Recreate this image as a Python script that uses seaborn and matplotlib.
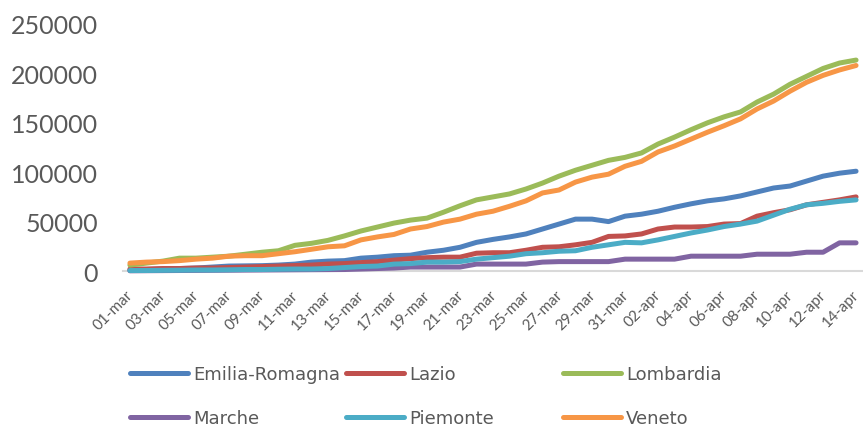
import matplotlib
matplotlib.use("Agg")
import matplotlib.pyplot as plt
import matplotlib.transforms as mtransforms
import seaborn as sns
import pandas as pd
from matplotlib.lines import Line2D

# tamponi cumulativi per regione, 01-mar .. 14-apr
giorni = [f"{d:02d}-mar" for d in range(1, 32)] + [f"{d:02d}-apr" for d in range(1, 15)]

emilia_romagna = [1000, 1500, 2000, 2500, 3000, 4000, 5000, 5200, 5400, 6000,
                  7000, 9000, 10000, 10500, 13000, 14000, 15500, 16000, 19000, 21000,
                  24000, 29000, 32000, 34500, 37500, 42500, 47500, 52500, 52500, 50000,
                  55500, 57500, 60500, 64500, 68000, 71000, 73000, 76000, 80000, 84000,
                  86000, 91000, 96000, 99000, 101000]
lazio = [2000, 2000, 2500, 2500, 3000, 3000, 3500, 4000, 4500, 5000,
         5500, 6000, 7000, 7500, 8500, 9500, 11000, 12500, 13500, 14000,
         14000, 18000, 18500, 18500, 21000, 24000, 24500, 26500, 29000, 35000,
         35500, 37500, 42500, 44500, 44500, 45000, 47500, 48000, 55500, 59000,
         62000, 67000, 69500, 72000, 75000]
lombardia = [6000, 8000, 10000, 13000, 13000, 14000, 15000, 17000, 19000, 20500,
             26000, 28000, 31000, 35500, 40500, 44500, 48500, 51500, 53500, 59500,
             66000, 72000, 75000, 78000, 83000, 89000, 96000, 102000, 107000, 112000,
             115000, 119500, 128500, 135500, 143000, 150000, 156000, 161000, 171000, 179000,
             189000, 197000, 205000, 210500, 213500]
marche = [200, 300, 400, 500, 600, 700, 800, 900, 1000, 1100,
          1200, 1300, 1400, 1500, 2000, 2500, 3000, 4000, 4000, 4000,
          4000, 7000, 7000, 7000, 7000, 9000, 9500, 9500, 9500, 9500,
          12000, 12000, 12000, 12000, 15000, 15000, 15000, 15000, 17000, 17000,
          17000, 19000, 19000, 28500, 28500]
piemonte = [500, 500, 700, 800, 1000, 1000, 1200, 1500, 1500, 1800,
            2000, 2000, 2500, 3500, 4500, 5000, 7000, 7500, 9000, 9000,
            9500, 12000, 13500, 15000, 17500, 18500, 20000, 20500, 24000, 26500,
            29000, 28500, 31500, 35000, 38500, 41500, 45000, 47500, 50500, 56500,
            62500, 67000, 68500, 70500, 72000]
veneto = [8000, 9000, 9500, 10500, 12000, 13000, 15000, 15500, 15500, 17500,
          19500, 22000, 24500, 25500, 31500, 34500, 37000, 42500, 45000, 49500,
          52500, 57500, 60500, 65500, 71000, 79000, 82000, 90000, 95000, 98000,
          106000, 111000, 120500, 126500, 133500, 140500, 147000, 154000, 164000, 172000,
          182000, 191000, 198000, 203500, 208000]

regioni = ["Emilia-Romagna", "Lazio", "Lombardia", "Marche", "Piemonte", "Veneto"]
serie = [emilia_romagna, lazio, lombardia, marche, piemonte, veneto]
colori = ["#4F81BD", "#C0504D", "#9BBB59", "#8064A2", "#4BACC6", "#F79646"]

df = pd.DataFrame({
    "giorno": list(range(len(giorni))) * len(regioni),
    "tamponi": [v for s in serie for v in s],
    "regione": [r for r in regioni for _ in giorni],
})

sns.set_style("white")
plt.rcParams["font.family"] = ["Lato", "DejaVu Sans"]
grigio = "#595959"

fig = plt.figure(figsize=(8.63, 4.27), dpi=100)
ax = fig.add_axes([123 / 863, 1 - 272 / 427, 739 / 863, 247 / 427])

sns.lineplot(data=df, x="giorno", y="tamponi", hue="regione", hue_order=regioni,
             palette=colori, linewidth=3.6, legend=False, ax=ax,
             solid_capstyle="round", solid_joinstyle="round")
for ln in ax.lines:
    ln.set_clip_on(False)

ax.set_xlim(-0.42, 44.36)
ax.set_ylim(0, 250000)
ax.set_yticks(range(0, 250001, 50000))
ax.set_xticks(range(0, len(giorni), 2))
ax.set_xticklabels(giorni[::2], rotation=45, ha="right", va="center",
                   rotation_mode="anchor", fontsize=11, color=grigio)
ax.tick_params(axis="x", length=0, pad=15)
ax.tick_params(axis="y", length=0, pad=18, labelsize=18, labelcolor=grigio)
spost = mtransforms.ScaledTranslation(0.01, 0, fig.dpi_scale_trans)
for lab in ax.get_xticklabels():
    lab.set_transform(lab.get_transform() + spost)
ax.set_xlabel("")
ax.set_ylabel("")
for side in ["top", "right", "left"]:
    ax.spines[side].set_visible(False)
ax.spines["bottom"].set_color("#D9D9D9")
ax.spines["bottom"].set_linewidth(1.5)
ax.spines["bottom"].set_zorder(0)

# legenda: tre colonne di larghezza uguale, come in Excel
colonne_x = [130, 346, 563]
for c in range(3):
    idx = [c, c + 3]
    handles = [Line2D([], [], color=colori[i], linewidth=3.6, solid_capstyle="round") for i in idx]
    leg = fig.legend(handles, [regioni[i] for i in idx], loc="center left",
                     bbox_to_anchor=(colonne_x[c] / 863, 1 - 397 / 427),
                     frameon=False, borderpad=0, borderaxespad=0,
                     handlelength=3.2, handletextpad=0.3, labelspacing=1.45,
                     prop={"family": "DejaVu Sans", "size": 13})
    for t in leg.get_texts():
        t.set_color(grigio)

fig.savefig("out.png", dpi=100)
